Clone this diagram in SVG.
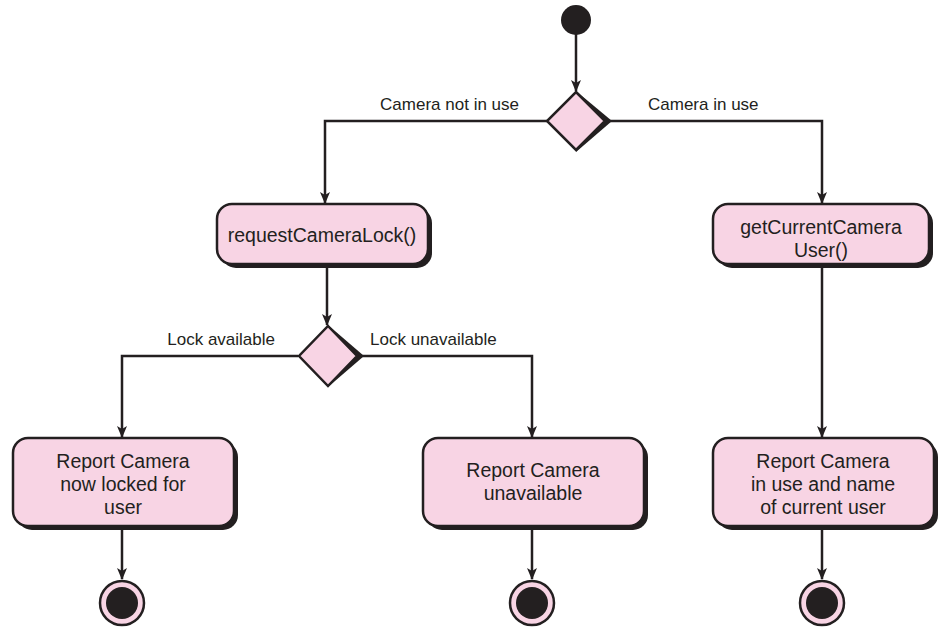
<svg xmlns="http://www.w3.org/2000/svg" width="943" height="628" viewBox="0 0 943 628">
<style>
.fill{fill:#f8d4e4;stroke:#231f20;stroke-width:2.5}
.sh{fill:#231f20}
.ln{fill:none;stroke:#231f20;stroke-width:2.5}
.t{font-family:"Liberation Sans",Arial,sans-serif;font-size:19.5px;fill:#231f20;text-anchor:middle}
.lb{font-family:"Liberation Sans",Arial,sans-serif;font-size:17px;fill:#231f20}
</style>
<defs>
<marker id="arr" viewBox="0 0 12 12" refX="11" refY="6" markerWidth="12" markerHeight="12" markerUnits="userSpaceOnUse" orient="auto">
<path d="M0,1 L12,6 L0,11 L3,6 Z" fill="#231f20"/>
</marker>
</defs>
<rect width="943" height="628" fill="#fff"/>
<g id="connectors">
<line class="ln" x1="576" y1="34" x2="576" y2="91" marker-end="url(#arr)"/>
<polyline class="ln" points="547,121 325,121 325,203" marker-end="url(#arr)"/>
<polyline class="ln" points="609,121 822,121 822,203" marker-end="url(#arr)"/>
<line class="ln" x1="327" y1="268" x2="327" y2="325" marker-end="url(#arr)"/>
<polyline class="ln" points="298,356 122,356 122,437" marker-end="url(#arr)"/>
<polyline class="ln" points="360,356 532,356 532,437" marker-end="url(#arr)"/>
<line class="ln" x1="822" y1="268" x2="822" y2="437" marker-end="url(#arr)"/>
<line class="ln" x1="122" y1="530" x2="122" y2="579" marker-end="url(#arr)"/>
<line class="ln" x1="532" y1="530" x2="532" y2="579" marker-end="url(#arr)"/>
<line class="ln" x1="822" y1="530" x2="822" y2="579" marker-end="url(#arr)"/>
<text class="lb" x="519" y="110" text-anchor="end">Camera not in use</text>
<text class="lb" x="648" y="110">Camera in use</text>
<text class="lb" x="275" y="345" text-anchor="end">Lock available</text>
<text class="lb" x="370" y="345">Lock unavailable</text>
</g>
<g id="start">
<circle cx="576" cy="20" r="15" fill="#231f20"/>
</g>
<g id="decision1">
<path class="sh" d="M576,91 L612,121 L576,152 Z"/>
<path class="fill" d="M576,92 L605,121 L576,150 L547,121 Z"/>
</g>
<g id="requestCameraLock">
<rect class="sh" x="221" y="208" width="211" height="60" rx="15"/>
<rect class="fill" x="217" y="204" width="211" height="60" rx="15"/>
<text class="t" x="322" y="242">requestCameraLock()</text>
</g>
<g id="getCurrentCameraUser">
<rect class="sh" x="717" y="208" width="216" height="60" rx="15"/>
<rect class="fill" x="713" y="204" width="216" height="60" rx="15"/>
<text class="t" x="821" y="234">getCurrentCamera</text>
<text class="t" x="821" y="257">User()</text>
</g>
<g id="decision2">
<path class="sh" d="M328,325 L364,356 L328,387 Z"/>
<path class="fill" d="M328,326 L357,356 L328,386 L299,356 Z"/>
</g>
<g id="reportLocked">
<rect class="sh" x="17" y="442" width="221" height="88" rx="15"/>
<rect class="fill" x="13" y="438" width="221" height="88" rx="15"/>
<text class="t" x="123" y="468">Report Camera</text>
<text class="t" x="123" y="491">now locked for</text>
<text class="t" x="123" y="514">user</text>
</g>
<g id="reportUnavailable">
<rect class="sh" x="427" y="442" width="221" height="88" rx="15"/>
<rect class="fill" x="423" y="438" width="221" height="88" rx="15"/>
<text class="t" x="533" y="477">Report Camera</text>
<text class="t" x="533" y="500">unavailable</text>
</g>
<g id="reportInUse">
<rect class="sh" x="717" y="442" width="221" height="88" rx="15"/>
<rect class="fill" x="713" y="438" width="221" height="88" rx="15"/>
<text class="t" x="823" y="468">Report Camera</text>
<text class="t" x="823" y="491">in use and name</text>
<text class="t" x="823" y="514">of current user</text>
</g>
<g id="end1">
<circle cx="122" cy="603" r="22" fill="#f8d4e4" stroke="#231f20" stroke-width="2.5"/>
<circle cx="122" cy="603" r="16" fill="#231f20"/>
</g>
<g id="end2">
<circle cx="532" cy="603" r="22" fill="#f8d4e4" stroke="#231f20" stroke-width="2.5"/>
<circle cx="532" cy="603" r="16" fill="#231f20"/>
</g>
<g id="end3">
<circle cx="822" cy="603" r="22" fill="#f8d4e4" stroke="#231f20" stroke-width="2.5"/>
<circle cx="822" cy="603" r="16" fill="#231f20"/>
</g>
</svg>
